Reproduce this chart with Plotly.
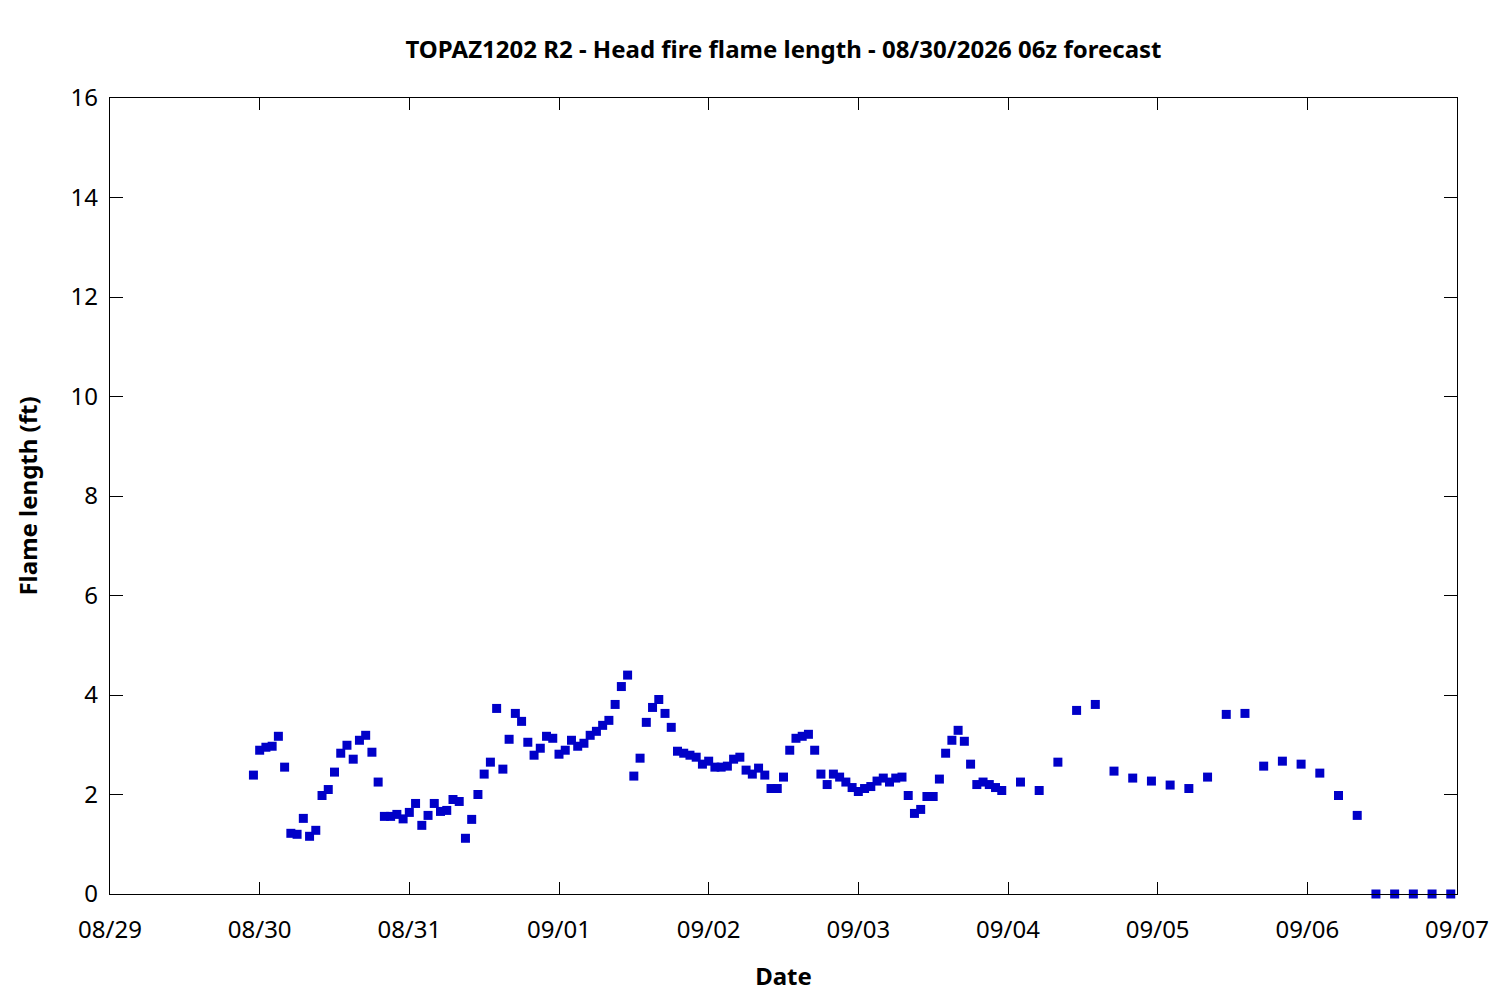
import pandas as pd
import plotly.graph_objects as go

# hourly values, 08/29 23:00 through 09/03 23:00
hourly_start = "2026-08-29 23:00"
hourly_flame = [
    2.39, 2.89, 2.95, 2.97, 3.17, 2.55, 1.22, 1.20, 1.52, 1.16,
    1.28, 1.98, 2.10, 2.45, 2.83, 2.99, 2.71, 3.09, 3.19, 2.85,
    2.25, 1.56, 1.56, 1.60, 1.51, 1.64, 1.82, 1.38, 1.58, 1.82,
    1.66, 1.68, 1.90, 1.86, 1.12, 1.50, 2.00, 2.41, 2.65, 3.73,
    2.51, 3.11, 3.63, 3.47, 3.05, 2.79, 2.93, 3.17, 3.13, 2.81,
    2.89, 3.09, 2.97, 3.03, 3.19, 3.27, 3.39, 3.49, 3.81, 4.17,
    4.40, 2.37, 2.73, 3.45, 3.75, 3.91, 3.63, 3.35, 2.87, 2.83,
    2.79, 2.75, 2.61, 2.67, 2.55, 2.55, 2.57, 2.71, 2.75, 2.49,
    2.41, 2.53, 2.39, 2.12, 2.12, 2.35, 2.89, 3.13, 3.17, 3.21,
    2.89, 2.41, 2.20, 2.41, 2.35, 2.25, 2.14, 2.06, 2.12, 2.16,
    2.27, 2.33, 2.25, 2.33, 2.35, 1.98, 1.62, 1.70, 1.96, 1.96,
    2.31, 2.83, 3.09, 3.29, 3.07, 2.61, 2.20, 2.25, 2.20, 2.14, 2.08,
]

# 3-hourly values, 09/04 02:00 through 09/06 23:00
three_hourly_start = "2026-09-04 02:00"
three_hourly_flame = [
    2.25, 2.08, 2.65, 3.69, 3.81, 2.47, 2.33, 2.27, 2.19, 2.12,
    2.35, 3.61, 3.63, 2.57, 2.67, 2.61, 2.43, 1.98, 1.58, 0.0,
    0.0, 0.0, 0.0, 0.0,
]

title = "TOPAZ1202 R2 - Head fire flame length - 08/30/2026 06z forecast"
x_range = ["2026-08-29", "2026-09-07"]
y_range = [0, 16]

times = list(pd.date_range(hourly_start, periods=len(hourly_flame), freq="h")) + list(
    pd.date_range(three_hourly_start, periods=len(three_hourly_flame), freq="3h")
)
flame = hourly_flame + three_hourly_flame

font = "Noto Sans"
fsize = 24

fig = go.Figure()
fig.add_trace(
    go.Scatter(
        x=times,
        y=flame,
        mode="markers",
        marker=dict(symbol="square", size=9, color="#0000c8", line=dict(width=0)),
        cliponaxis=False,
        showlegend=False,
    )
)

axis_common = dict(
    showline=True,
    linecolor="black",
    linewidth=1.3,
    mirror="allticks",
    ticks="inside",
    tickcolor="black",
    tickwidth=1.3,
    showgrid=False,
    zeroline=False,
    tickfont=dict(family=font, size=fsize, color="black"),
)

fig.update_xaxes(
    **axis_common,
    range=x_range,
    dtick=86400000,
    tickformat="%m/%d",
    ticklen=12,
    ticklabelstandoff=14,
    title=dict(text="Date", font=dict(family=font, size=fsize, weight="bold", color="black"), standoff=24),
)
fig.update_yaxes(
    **axis_common,
    range=y_range,
    dtick=2,
    ticklen=13,
    ticklabelstandoff=6,
    title=dict(text="Flame length (ft)", font=dict(family=font, size=fsize, weight="bold", color="black"), standoff=26),
)

# page has an 8px body margin, so the plot box is shifted up/left by 8
fig.update_layout(
    width=1500,
    height=1000,
    margin=dict(l=102, r=51, t=90, b=114),
    plot_bgcolor="white",
    paper_bgcolor="white",
    font=dict(family=font, size=fsize, color="black"),
    title=dict(
        text=title,
        x=0.517,
        xanchor="center",
        y=0.958,
        yanchor="middle",
        font=dict(family=font, size=fsize, weight="bold", color="black"),
    ),
)

fig.write_html("out.html")
